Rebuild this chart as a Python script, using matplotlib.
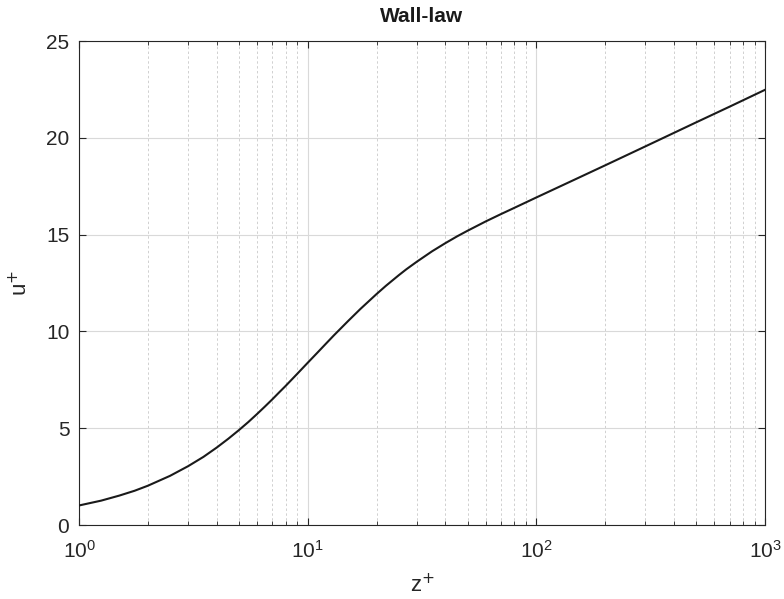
import matplotlib
matplotlib.use("Agg")
import matplotlib.pyplot as plt
from matplotlib.ticker import LogLocator, NullFormatter

plt.rcParams['font.family'] = ['Liberation Sans', 'DejaVu Sans']

# velocity profile in wall units
z_plus = [1, 1.25, 1.5, 1.75, 2, 2.5, 3, 3.5, 4, 4.5, 5, 5.5, 6, 6.5, 7, 7.5,
          8, 9, 10, 11, 12, 13, 15, 17, 20, 22, 25, 27, 30, 35, 40, 45, 50,
          60, 70, 80, 100, 150, 200, 300, 500, 700, 1000]
u_plus = [1.01, 1.26, 1.52, 1.77, 2.03, 2.54, 3.04, 3.52, 4.00, 4.46, 4.90,
          5.32, 5.73, 6.12, 6.49, 6.85, 7.18, 7.81, 8.38, 8.89, 9.36, 9.79,
          10.53, 11.16, 11.93, 12.36, 12.90, 13.21, 13.60, 14.14, 14.56,
          14.91, 15.20, 15.68, 16.06, 16.38, 16.92, 17.89, 18.58, 19.56,
          20.80, 21.61, 22.48]

fig = plt.figure(figsize=(7.84, 5.99), dpi=100)
ax = fig.add_axes([0.1008, 0.1235, 0.875, 0.808])

ax.semilogx(z_plus, u_plus, color='#1a1a1a', lw=1.5, zorder=3)

ax.set_xlim(1, 1000)
ax.set_ylim(0, 25)
ax.set_yticks([0, 5, 10, 15, 20, 25])
ax.xaxis.set_minor_locator(LogLocator(base=10, subs=range(2, 10)))
ax.xaxis.set_minor_formatter(NullFormatter())

ax.grid(True, which='major', color='#d9d9d9', lw=0.8, ls='-')
ax.grid(True, which='minor', axis='x', color='#d0d0d0', lw=0.7, ls=(0, (2.5, 2.5)))
ax.set_axisbelow(True)

ax.tick_params(which='both', direction='in', top=True, right=True,
               labelsize=15, colors='#262626', labelcolor='#262626')
ax.tick_params(which='major', length=5, width=0.8)
ax.tick_params(which='minor', length=3, width=0.6)
ax.tick_params(axis='x', pad=11)
ax.tick_params(axis='y', pad=7)
for s in ax.spines.values():
    s.set_color('#262626')
    s.set_linewidth(0.8)

ax.set_title('Wall-law', fontsize=15, fontweight='bold', color='#1a1a1a', pad=14)
ax.set_xlabel(r'z$^{+}$', fontsize=16, color='#262626', labelpad=8)
ax.set_ylabel(r'u$^{+}$', fontsize=16, color='#262626', labelpad=10)

fig.savefig('out.png', dpi=100, facecolor='white')
